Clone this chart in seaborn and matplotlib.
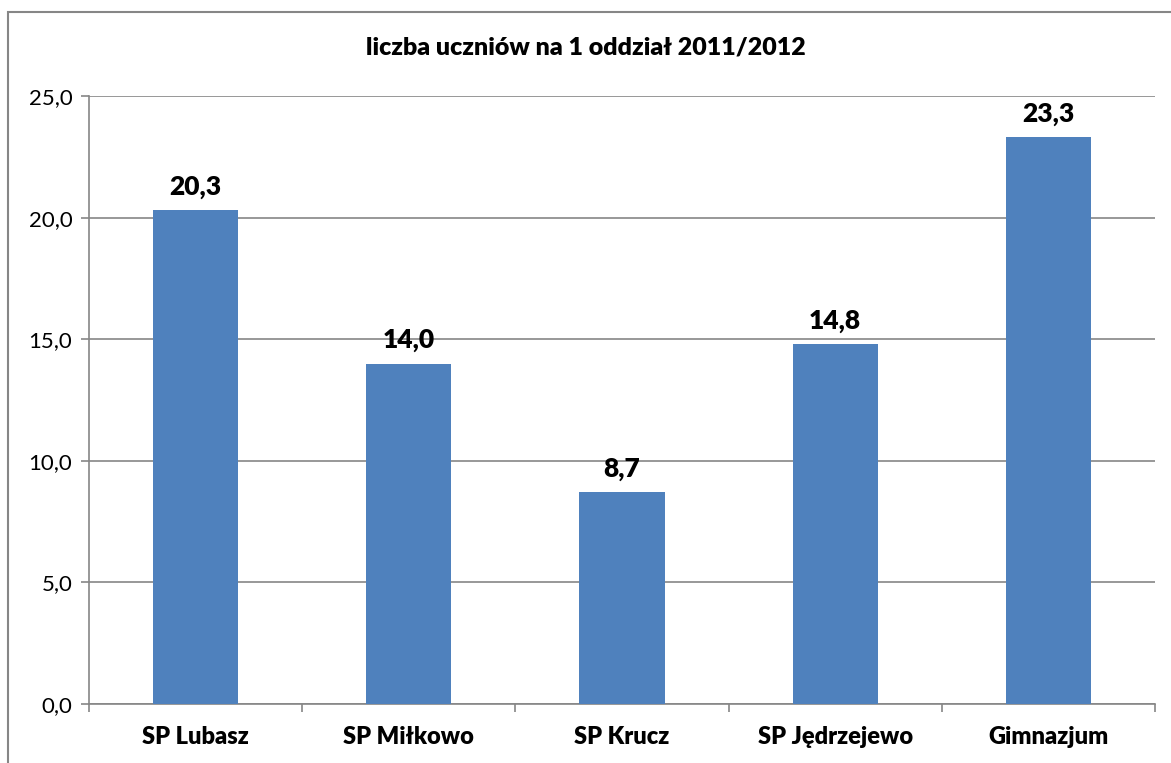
import matplotlib.pyplot as plt
import seaborn as sns
import pandas as pd
from matplotlib.patches import Rectangle

szkoly = ['SP Lubasz', 'SP Miłkowo', 'SP Krucz', 'SP Jędrzejewo', 'Gimnazjum']
uczniowie = [20.3, 14.0, 8.7, 14.8, 23.3]

data = pd.DataFrame({'szkola': szkoly, 'liczba': uczniowie})

sns.set_style('white')
plt.rcParams['font.family'] = ['Lato', 'DejaVu Sans']
plt.rcParams['text.color'] = 'black'
plt.rcParams['xtick.color'] = 'black'
plt.rcParams['ytick.color'] = 'black'

fig = plt.figure(figsize=(11.71, 7.63), dpi=100)
ax = fig.add_axes([89 / 1171, 1 - 704 / 763, (1155 - 89) / 1171, (704 - 96) / 763])

sns.barplot(x='szkola', y='liczba', data=data, color='#4F81BD', saturation=1,
            width=0.4, linewidth=0, ax=ax, zorder=3)

ax.set_ylim(0, 25)
ax.set_xlim(-0.5, len(szkoly) - 0.5)
ax.set_yticks([0, 5, 10, 15, 20, 25])
ax.set_yticklabels([f"{v:.1f}".replace('.', ',') for v in [0, 5, 10, 15, 20, 25]], fontsize=16)
ax.set_xticklabels(szkoly, fontsize=17, fontweight='heavy')
ax.set_xlabel('')
ax.set_ylabel('')
ax.yaxis.grid(True, color='#868686', linewidth=1.2, zorder=0)

for s in ['top', 'right']:
    ax.spines[s].set_visible(False)
for s in ['left', 'bottom']:
    ax.spines[s].set_color('#868686')
    ax.spines[s].set_linewidth(1.2)

ax.tick_params(axis='y', which='major', left=True, length=6, color='#868686', width=1.2, pad=6)
ax.tick_params(axis='x', which='major', bottom=False, pad=12)
ax.set_xticks([i + 0.5 for i in range(-1, len(szkoly))], minor=True)
ax.tick_params(axis='x', which='minor', bottom=True, length=6, color='#868686', width=1.2)

for i, v in enumerate(uczniowie):
    ax.annotate(f"{v:.1f}".replace('.', ','), (i, v), xytext=(0, 8), textcoords='offset points',
                ha='center', va='bottom', fontsize=19, fontweight='heavy')

fig.text(0.5, 1 - 48 / 763, 'liczba uczniów na 1 oddział 2011/2012', ha='center', va='center',
         fontsize=18, fontweight='heavy')

fig.patches.append(Rectangle((8 / 1171, -0.1), 1.2, 1 - 12 / 763 + 0.1, transform=fig.transFigure,
                             fill=False, edgecolor='#868686', linewidth=1.5))

fig.savefig('out.png', dpi=100)
